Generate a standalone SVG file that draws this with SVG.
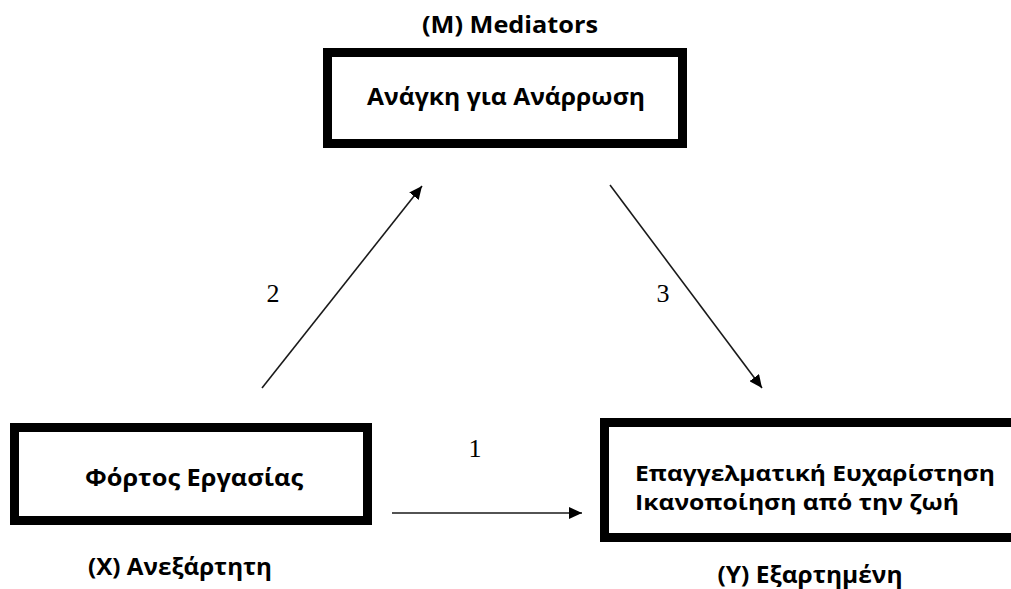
<svg xmlns="http://www.w3.org/2000/svg" width="1011" height="589" viewBox="0 0 1011 589">
  <style>
    .box { fill: #ffffff; stroke: #000000; stroke-width: 9; }
    .lbl { font-family: "Open Sans", "Noto Sans", sans-serif; font-weight: bold; font-size: 24px; fill: #000000; }
    .lbl2 { font-family: "Open Sans", "Noto Sans", sans-serif; font-weight: bold; font-size: 22px; fill: #000000; }
    .num { font-family: "Liberation Serif", serif; font-size: 26px; fill: #000000; }
    .conn { stroke: #1a1a1a; stroke-width: 1.6; fill: none; marker-end: url(#arrow); }
  </style>
  <defs>
    <marker id="arrow" markerUnits="userSpaceOnUse" markerWidth="14" markerHeight="12" refX="13" refY="6" orient="auto">
      <path d="M0,0 L13,6 L0,12 Z" fill="#000000"/>
    </marker>
  </defs>
  <rect width="1011" height="589" fill="#ffffff"/>

  <g id="connectors">
    <line class="conn" x1="262" y1="388" x2="422" y2="186"/>
    <line class="conn" x1="610" y1="185" x2="762" y2="388"/>
    <line class="conn" x1="392" y1="513" x2="582" y2="513"/>
    <text class="num" x="273" y="302" text-anchor="middle">2</text>
    <text class="num" x="663" y="302" text-anchor="middle">3</text>
    <text class="num" x="475" y="457" text-anchor="middle">1</text>
  </g>

  <g id="mediator">
    <text class="lbl" x="510" y="33" text-anchor="middle" textLength="176" lengthAdjust="spacingAndGlyphs">(M) Mediators</text>
    <rect class="box" x="327.5" y="52.5" width="355" height="91"/>
    <text class="lbl" x="506" y="105" text-anchor="middle" textLength="278" lengthAdjust="spacingAndGlyphs">Ανάγκη για Ανάρρωση</text>
  </g>

  <g id="independent">
    <rect class="box" x="14.5" y="427.5" width="353" height="93"/>
    <text class="lbl" x="194" y="486" text-anchor="middle" textLength="218" lengthAdjust="spacingAndGlyphs">Φόρτος Εργασίας</text>
    <text class="lbl" x="180" y="575" text-anchor="middle" textLength="184" lengthAdjust="spacingAndGlyphs">(X) Ανεξάρτητη</text>
  </g>

  <g id="dependent">
    <rect class="box" x="604.5" y="422.5" width="420" height="115"/>
    <text class="lbl2" x="635" y="481" textLength="360" lengthAdjust="spacingAndGlyphs">Επαγγελματική Ευχαρίστηση</text>
    <text class="lbl2" x="635" y="510" textLength="324" lengthAdjust="spacingAndGlyphs">Ικανοποίηση από την ζωή</text>
    <text class="lbl" x="810" y="583" text-anchor="middle" textLength="185" lengthAdjust="spacingAndGlyphs">(Y) Εξαρτημένη</text>
  </g>
</svg>
